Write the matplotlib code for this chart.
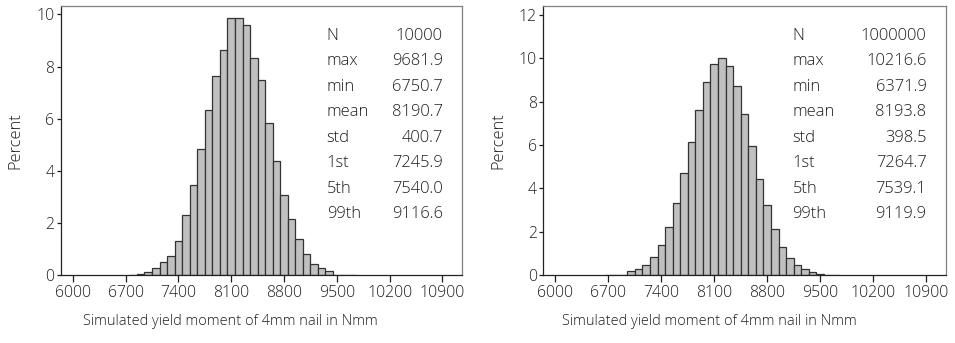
import matplotlib.pyplot as plt
import numpy as np

# bin centres (width 100) and percent per bin
centres_a = np.arange(6800, 9800, 100)
pct_a = [0.03, 0.04, 0.14, 0.29, 0.52, 0.75, 1.32, 2.30, 3.47, 4.84,
         6.32, 7.62, 8.62, 9.86, 9.86, 9.58, 8.33, 7.47, 5.85, 4.39,
         3.07, 2.15, 1.39, 0.83, 0.45, 0.28, 0.15, 0.0, 0.02, 0.02]

centres_b = np.arange(6700, 9800, 100)
pct_b = [0.005, 0.01, 0.03, 0.18, 0.29, 0.48, 0.83, 1.38, 2.21, 3.35,
         4.73, 6.12, 7.61, 8.90, 9.73, 10.02, 9.65, 8.71, 7.41, 5.96,
         4.46, 3.24, 2.12, 1.31, 0.81, 0.46, 0.28, 0.15, 0.06, 0.03, 0.01]

stat_names = ['N', 'max', 'min', 'mean', 'std', '1st', '5th', '99th']
stats_a = ['10000', '9681.9', '6750.7', '8190.7', '400.7', '7245.9', '7540.0', '9116.6']
stats_b = ['1000000', '10216.6', '6371.9', '8193.8', '398.5', '7264.7', '7539.1', '9119.9']

xticks = [6000, 6700, 7400, 8100, 8800, 9500, 10200, 10900]
xlabel = 'Simulated yield moment of 4mm nail in Nmm'

plt.rcParams['font.family'] = ['Open Sans', 'DejaVu Sans']
plt.rcParams['font.weight'] = 'light'
plt.rcParams['axes.labelweight'] = 'light'
txt = '#1e1e1e'


def panel(ax, centres, pct, stats, ymax, yticks, name_x, label_x):
	ax.bar(centres, pct, width=100, color='#c0c0c0', edgecolor='#333333', linewidth=0.9)
	ax.set_xlim(5840, 11160)
	ax.set_ylim(0, ymax)
	ax.set_xticks(xticks)
	ax.set_yticks(yticks)
	ax.tick_params(axis='x', length=5, width=0.9, pad=2, labelsize=11.4, colors=txt)
	ax.tick_params(axis='y', length=3, width=0.9, pad=1.5, labelsize=11.4, colors=txt)
	for s in ['left', 'bottom']:
		ax.spines[s].set_color('#222222')
		ax.spines[s].set_linewidth(0.9)
	for s in ['top', 'right']:
		ax.spines[s].set_color('#808080')
		ax.spines[s].set_linewidth(0.9)
	ax.set_ylabel('Percent', fontsize=11.8, color=txt)
	ax.yaxis.set_label_coords(-0.092, 0.5)
	ax.set_xlabel(xlabel, fontsize=10.45, color=txt)
	ax.xaxis.set_label_coords(label_x, -0.145)

	# stats table in the upper right corner
	for i, (nm, v) in enumerate(zip(stat_names, stats)):
		y = 0.89 - i * 0.0947
		ax.text(name_x, y, nm, transform=ax.transAxes, fontsize=11.9,
			color=txt, va='center', ha='left')
		ax.text(0.952, y, v, transform=ax.transAxes, fontsize=11.9,
			color=txt, va='center', ha='right')


fig = plt.figure(figsize=(9.55, 3.43), dpi=100)
ax1 = fig.add_axes([0.0636, 0.1974, 0.4202, 0.7851])
ax2 = fig.add_axes([0.5689, 0.1974, 0.4214, 0.7851])

panel(ax1, centres_a, pct_a, stats_a, 10.32, [0, 2, 4, 6, 8, 10], 0.663, 0.422)
panel(ax2, centres_b, pct_b, stats_b, 12.41, [0, 2, 4, 6, 8, 10, 12], 0.619, 0.4125)

fig.savefig('out.png', dpi=100)
